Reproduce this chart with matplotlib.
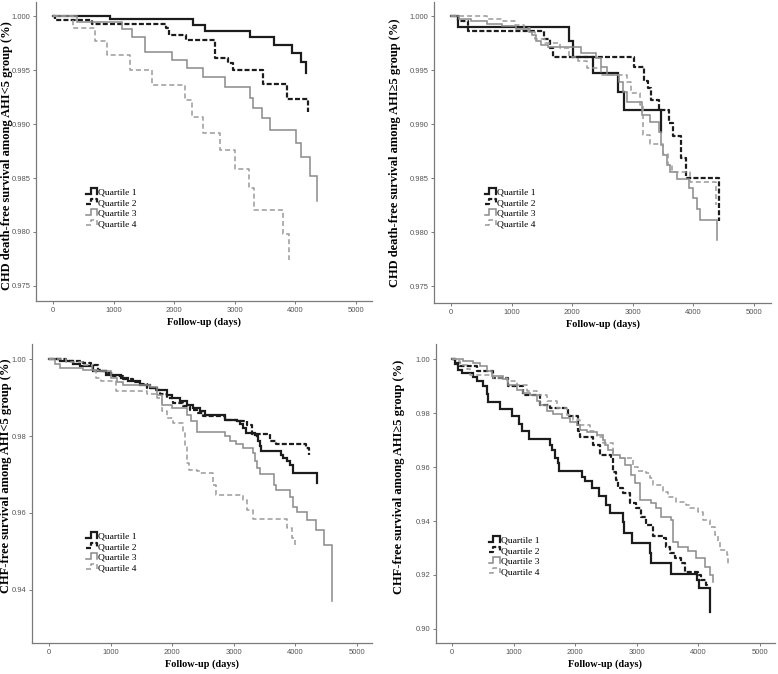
import matplotlib
matplotlib.use('Agg')
import matplotlib.pyplot as plt
from matplotlib.legend_handler import HandlerBase
from matplotlib.lines import Line2D
from matplotlib.ticker import FormatStrFormatter

# ---------------- data ----------------
labels = ["Quartile 1", "Quartile 2", "Quartile 3", "Quartile 4"]
x_ticks = [0, 1000, 2000, 3000, 4000, 5000]

# Panel A: CHD death-free survival, AHI<5
a_q1_t = [0, 940, 2316, 2508, 3251, 3647, 3938, 4087, 4175]
a_q1_s = [1.0, 0.99969, 0.99914, 0.99861, 0.99803, 0.99732, 0.99655, 0.99571, 0.99470]
a_q2_t = [0, 30, 640, 1860, 1920, 2200, 2673, 2893, 2976, 3471, 3867, 4213]
a_q2_s = [1.0, 0.99963, 0.99922, 0.99886, 0.99825, 0.99778, 0.99615, 0.99562, 0.99501, 0.99371, 0.99232, 0.99115]
a_q3_t = [0, 390, 1133, 1309, 1518, 1958, 2206, 2470, 2838, 3251, 3295, 3443, 3581, 4010, 4087, 4241, 4351]
a_q3_s = [1.0, 0.99948, 0.99877, 0.99809, 0.9967, 0.99593, 0.99516, 0.99439, 0.99346, 0.99245, 0.99152, 0.99054, 0.98946, 0.98822, 0.9869, 0.98514, 0.98283]
a_q4_t = [0, 336, 693, 886, 1271, 1628, 2178, 2288, 2481, 2756, 3003, 3240, 3317, 3801, 3894]
a_q4_s = [1.0, 0.99886, 0.99769, 0.99639, 0.99501, 0.99362, 0.99223, 0.99069, 0.98915, 0.98755, 0.98585, 0.98406, 0.98206, 0.97981, 0.97743]

# Panel B: CHD death-free survival, AHI>=5
b_q1_t = [0, 120, 1950, 2020, 2345, 2759, 2852, 3464]
b_q1_s = [1.0, 0.99901, 0.99766, 0.99624, 0.9947, 0.993, 0.99128, 0.9893]
b_q2_t = [0, 120, 275, 1540, 1636, 1690, 3024, 3188, 3245, 3300, 3436, 3601, 3667, 3794, 3877, 4420]
b_q2_s = [1.0, 0.99954, 0.99861, 0.99784, 0.99707, 0.99618, 0.99525, 0.9940, 0.99331, 0.99223, 0.99128, 0.99007, 0.98893, 0.98684, 0.98499, 0.98098]
b_q3_t = [0, 127, 330, 600, 850, 1080, 1280, 1330, 1400, 1480, 1600, 2150, 2400, 2480, 2570, 2775, 2840, 2896, 3145, 3282, 3436, 3458, 3502, 3557, 3612, 3722, 3931, 3986, 4052, 4107, 4383]
b_q3_s = [1.0, 0.9997, 0.99955, 0.9993, 0.9991, 0.9988, 0.9985, 0.9982, 0.9977, 0.9973, 0.9971, 0.9966, 0.9961, 0.9953, 0.99454, 0.99393, 0.99294, 0.99208, 0.99084, 0.9902, 0.9893, 0.98807, 0.98715, 0.98622, 0.9856, 0.9849, 0.98406, 0.98314, 0.98215, 0.98113, 0.97928]
b_q4_t = [0, 600, 850, 1050, 1200, 1300, 1380, 1550, 1800, 1950, 2100, 2250, 2470, 2896, 2978, 3114, 3160, 3282, 3500, 3580, 3650, 3940, 4372]
b_q4_s = [1.0, 0.99975, 0.9995, 0.9992, 0.9989, 0.9985, 0.9979, 0.9975, 0.997, 0.9962, 0.9958, 0.9952, 0.99454, 0.99393, 0.99285, 0.99177, 0.9890, 0.98813, 0.9872, 0.9862, 0.9856, 0.98462, 0.98252]

# Panel C: CHF-free survival, AHI<5
c_q1_t = [0, 174, 390, 499, 716, 933, 1177, 1285, 1475, 1638, 1746, 1909, 1990, 2126, 2234, 2343, 2451, 2533, 2858, 3059, 3102, 3145, 3200, 3346, 3380, 3400, 3420, 3444, 3759, 3800, 3872, 3920, 3954, 4349]
c_q1_s = [1.0, 0.99939, 0.9987, 0.99809, 0.99697, 0.99593, 0.99506, 0.9942, 0.99332, 0.99246, 0.99185, 0.99072, 0.98986, 0.98899, 0.98812, 0.98726, 0.98657, 0.98535, 0.98422, 0.98379, 0.9831, 0.98205, 0.98075, 0.98032, 0.97989, 0.97859, 0.97729, 0.97616, 0.97512, 0.97425, 0.97339, 0.97252, 0.97052, 0.96775]
c_q2_t = [0, 282, 553, 689, 797, 851, 960, 1041, 1204, 1367, 1475, 1583, 1719, 1800, 1909, 2017, 2180, 2288, 2400, 2505, 2858, 3059, 3210, 3292, 3590, 3688, 4175, 4214]
c_q2_s = [1.0, 0.99957, 0.99896, 0.99835, 0.99723, 0.99679, 0.99636, 0.99549, 0.9948, 0.99402, 0.9935, 0.99246, 0.99202, 0.9909, 0.98986, 0.98856, 0.9877, 0.98682, 0.98596, 0.98509, 0.98422, 0.98396, 0.98292, 0.98049, 0.97859, 0.97789, 0.97685, 0.9750]
c_q3_t = [0, 92, 174, 553, 797, 1014, 1100, 1204, 1638, 1746, 1828, 2000, 2234, 2300, 2400, 2858, 2939, 3037, 3156, 3308, 3340, 3384, 3420, 3655, 3688, 3916, 3959, 4024, 4187, 4338, 4469, 4593]
c_q3_s = [1.0, 0.9987, 0.99766, 0.99723, 0.99679, 0.99506, 0.99402, 0.99332, 0.99263, 0.99072, 0.98812, 0.98726, 0.98552, 0.98379, 0.98101, 0.97989, 0.97876, 0.97789, 0.97685, 0.97555, 0.97339, 0.97165, 0.9701, 0.96732, 0.96602, 0.96428, 0.96168, 0.96038, 0.95821, 0.95561, 0.95171, 0.93715]
c_q4_t = [0, 280, 553, 700, 770, 851, 1095, 1583, 1746, 1828, 1909, 2017, 2169, 2207, 2234, 2278, 2397, 2451, 2668, 2711, 3156, 3210, 3308, 3872, 3943, 3986]
c_q4_s = [1.0, 0.9993, 0.9985, 0.99679, 0.99506, 0.99436, 0.99159, 0.9909, 0.98986, 0.98639, 0.98466, 0.98336, 0.98119, 0.97772, 0.97295, 0.97122, 0.97078, 0.97052, 0.96732, 0.96472, 0.96342, 0.96082, 0.95847, 0.95622, 0.95345, 0.95085]

# Panel D: CHF-free survival, AHI>=5
d_q1_t = [0, 49, 103, 157, 346, 400, 508, 562, 578, 778, 968, 1086, 1130, 1254, 1589, 1616, 1670, 1724, 1740, 2103, 2157, 2265, 2389, 2508, 2562, 2778, 2790, 2930, 3211, 3238, 3562, 3984, 4011, 4184]
d_q1_s = [1.0, 0.99815, 0.99604, 0.99481, 0.99333, 0.99197, 0.98986, 0.98702, 0.98405, 0.98158, 0.97874, 0.97602, 0.97342, 0.97046, 0.96823, 0.96638, 0.96329, 0.96143, 0.95859, 0.95649, 0.95488, 0.95216, 0.94932, 0.94598, 0.94289, 0.93955, 0.93548, 0.93201, 0.92806, 0.92435, 0.92027, 0.91817, 0.91508, 0.90643]
d_q2_t = [0, 50, 130, 400, 670, 914, 1157, 1427, 1589, 1886, 2050, 2076, 2292, 2400, 2589, 2616, 2670, 2697, 2778, 2886, 2995, 3076, 3157, 3265, 3427, 3481, 3535, 3616, 3724, 3778, 3995, 4049, 4119, 4140]
d_q2_s = [1.0, 0.9985, 0.99728, 0.99567, 0.99295, 0.98986, 0.98677, 0.98307, 0.98183, 0.97874, 0.97318, 0.97132, 0.96823, 0.96452, 0.96329, 0.95834, 0.95525, 0.95216, 0.9503, 0.9466, 0.94475, 0.94166, 0.93857, 0.93461, 0.93362, 0.93053, 0.92806, 0.9262, 0.92435, 0.92128, 0.92003, 0.91817, 0.9163, 0.9160]
d_q3_t = [0, 184, 346, 454, 562, 643, 832, 914, 1049, 1157, 1265, 1373, 1427, 1535, 1643, 1778, 1914, 2022, 2076, 2184, 2346, 2454, 2481, 2535, 2616, 2724, 2805, 2914, 2968, 3049, 3238, 3319, 3400, 3562, 3589, 3670, 3832, 3968, 4103, 4184, 4238]
d_q3_s = [1.0, 0.99938, 0.99852, 0.99728, 0.99543, 0.99357, 0.99271, 0.99048, 0.98863, 0.98739, 0.98677, 0.9843, 0.98307, 0.98059, 0.97961, 0.97812, 0.97664, 0.97565, 0.9738, 0.97293, 0.97194, 0.97009, 0.96823, 0.96638, 0.96452, 0.96329, 0.96082, 0.95711, 0.95402, 0.94784, 0.9466, 0.94475, 0.94166, 0.94042, 0.93238, 0.93053, 0.92892, 0.9262, 0.92311, 0.92003, 0.91731]
d_q4_t = [0, 60, 130, 238, 292, 670, 886, 1049, 1211, 1373, 1535, 1697, 1859, 1968, 2076, 2238, 2346, 2454, 2616, 2724, 2941, 3022, 3157, 3211, 3265, 3427, 3508, 3643, 3805, 3859, 3995, 4076, 4184, 4265, 4319, 4346, 4470, 4481]
d_q4_s = [1.0, 0.99913, 0.9979, 0.99641, 0.99419, 0.99295, 0.99172, 0.99048, 0.98801, 0.98653, 0.9843, 0.98183, 0.97936, 0.9775, 0.97565, 0.97318, 0.97132, 0.96885, 0.96452, 0.96329, 0.9602, 0.95859, 0.95773, 0.95587, 0.9534, 0.95093, 0.94908, 0.94722, 0.94598, 0.94475, 0.94351, 0.94042, 0.93795, 0.93486, 0.93238, 0.92929, 0.92744, 0.92373]

ylabels = ["CHD death-free survival among AHI<5 group (%)",
           "CHD death-free survival among AHI\u22655 group (%)",
           "CHF-free survival among AHI<5 group (%)",
           "CHF-free survival among AHI\u22655 group (%)"]
xlabel = "Follow-up (days)"
yticks_chd = [0.975, 0.980, 0.985, 0.990, 0.995, 1.000]
yticks_chf_low = [0.94, 0.96, 0.98, 1.00]
yticks_chf_high = [0.90, 0.92, 0.94, 0.96, 0.98, 1.00]

# ---------------- style ----------------
plt.rcParams['lines.scale_dashes'] = False
SERIF = ['Liberation Serif', 'DejaVu Serif']
SANS = ['Liberation Sans', 'DejaVu Sans']
styles = [
    dict(color='#1c1c1c', lw=1.6, ls='-'),
    dict(color='#1c1c1c', lw=1.6, ls=(0, (3.6, 1.6))),
    dict(color='#8a8a8a', lw=1.1, ls='-'),
    dict(color='#9a9a9a', lw=1.1, ls=(0, (3.6, 2.2))),
]


class StepHandler(HandlerBase):
    def create_artists(self, legend, orig_handle, xdescent, ydescent,
                       width, height, fontsize, trans):
        x0 = -xdescent
        y0 = -ydescent
        xs = [x0, x0 + 0.4 * width, x0 + 0.4 * width, x0 + width, x0 + width]
        ys = [y0 + 0.15 * height, y0 + 0.15 * height, y0 + 0.95 * height,
              y0 + 0.95 * height, y0 + 0.15 * height]
        ln = Line2D(xs, ys)
        ln.update_from(orig_handle)
        ln.set_transform(trans)
        return [ln]


W, H = 778, 674
panels = [
    dict(box=(36, 2, 372, 301), xlim=(-280, 5264), ylim=(0.97361, 1.0013),
         yticks=yticks_chd, fmt='%.3f', ylabel=ylabels[0], leg=(0.149, 0.378), ylx=-0.068, yly=0.485,
         series=[(a_q1_t, a_q1_s), (a_q2_t, a_q2_s), (a_q3_t, a_q3_s), (a_q4_t, a_q4_s)]),
    dict(box=(434, 2, 771, 303), xlim=(-280, 5280), ylim=(0.97343, 1.0013),
         yticks=yticks_chd, fmt='%.3f', ylabel=ylabels[1], leg=(0.151, 0.382), ylx=-0.099, yly=0.498,
         series=[(b_q1_t, b_q1_s), (b_q2_t, b_q2_s), (b_q3_t, b_q3_s), (b_q4_t, b_q4_s)]),
    dict(box=(32, 344, 372, 643), xlim=(-276, 5244), ylim=(0.92623, 1.0039),
         yticks=yticks_chf_low, fmt='%.2f', ylabel=ylabels[2], leg=(0.159, 0.371), ylx=-0.058, yly=0.56,
         series=[(c_q1_t, c_q1_s), (c_q2_t, c_q2_s), (c_q3_t, c_q3_s), (c_q4_t, c_q4_s)]),
    dict(box=(436, 344, 775, 643), xlim=(-260, 5244), ylim=(0.8948, 1.0056),
         yticks=yticks_chf_high, fmt='%.2f', ylabel=ylabels[3], leg=(0.156, 0.358), ylx=-0.090, yly=0.555,
         series=[(d_q1_t, d_q1_s), (d_q2_t, d_q2_s), (d_q3_t, d_q3_s), (d_q4_t, d_q4_s)]),
]

fig = plt.figure(figsize=(W / 100, H / 100), dpi=100)

for p in panels:
    l, t, r, b = p['box']
    ax = fig.add_axes([l / W, 1 - b / H, (r - l) / W, (b - t) / H])
    handles = []
    for (ts, ss), st, lab in zip(p['series'], styles, labels):
        h, = ax.step(ts, ss, where='post', color=st['color'], lw=st['lw'],
                     linestyle=st['ls'], label=lab, solid_joinstyle='miter')
        handles.append(h)
    ax.set_xlim(*p['xlim'])
    ax.set_ylim(*p['ylim'])
    ax.set_xticks(x_ticks)
    ax.set_yticks(p['yticks'])
    ax.yaxis.set_major_formatter(FormatStrFormatter(p['fmt']))
    for s in ['top', 'right']:
        ax.spines[s].set_visible(False)
    for s in ['left', 'bottom']:
        ax.spines[s].set_color('#7a7a7a')
        ax.spines[s].set_linewidth(0.9)
    ax.tick_params(direction='out', length=2.5, width=0.7, color='#7a7a7a',
                   labelsize=5.5, labelcolor='#555555', pad=1.5)
    for lbl in ax.get_xticklabels() + ax.get_yticklabels():
        lbl.set_fontfamily(SANS)
    ax.set_xlabel(xlabel, family=SERIF, fontweight='bold', fontsize=7.4, labelpad=3)
    ax.set_ylabel(p['ylabel'], family=SERIF, fontweight='bold', fontsize=9)
    ax.yaxis.set_label_coords(p['ylx'], p['yly'])
    ax.legend(handles=handles, loc='upper left', bbox_to_anchor=p['leg'],
              frameon=False, borderpad=0, borderaxespad=0,
              handlelength=1.2, handletextpad=0.1, labelspacing=0.2,
              prop=dict(family=SERIF, size=6.8),
              handler_map={Line2D: StepHandler()})

fig.savefig('out.png', dpi=100)
